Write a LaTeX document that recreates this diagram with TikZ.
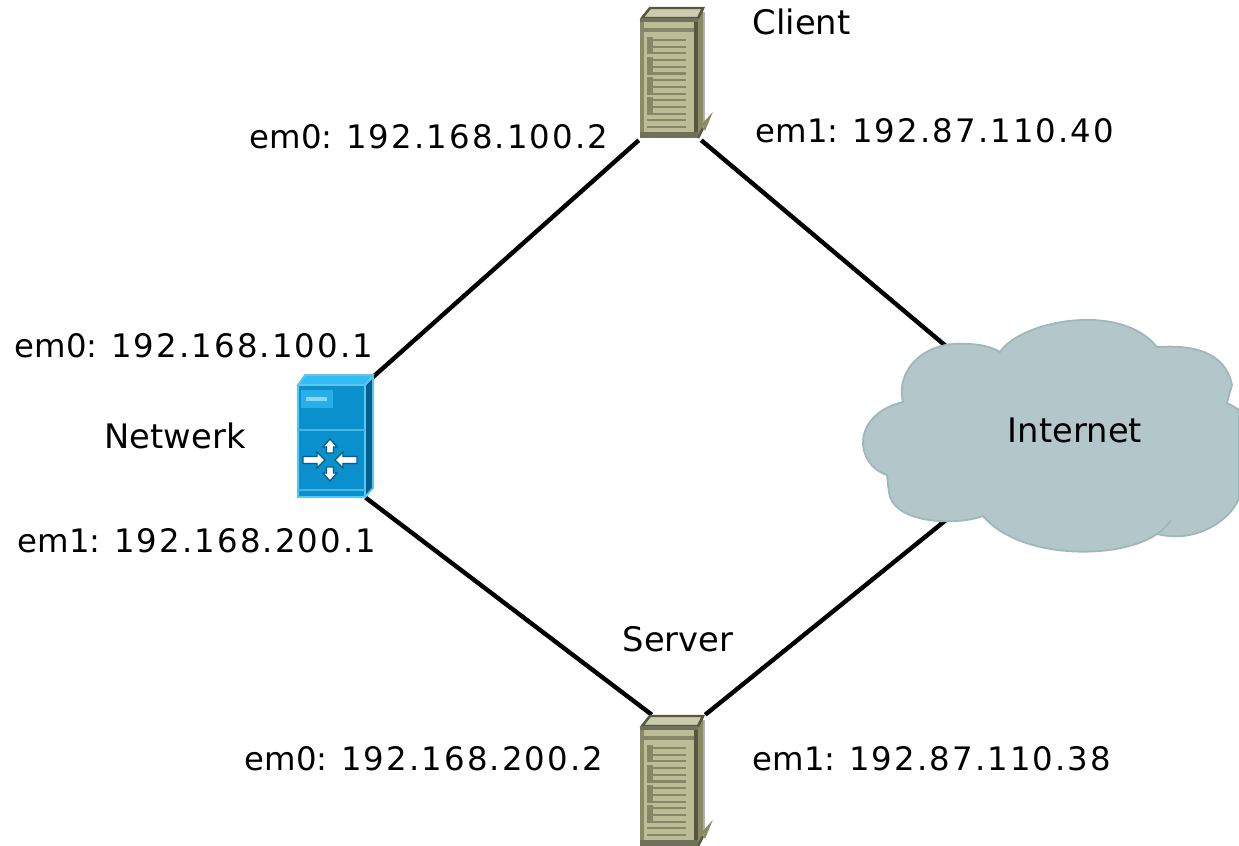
\documentclass[tikz,border=0pt]{standalone}
\usepackage{fontspec}
\setmainfont{DejaVu Sans}
\newfontfamily\ipfont[LetterSpace=6.5]{DejaVu Sans}
\definecolor{towerfront}{HTML}{BDBD95}
\definecolor{towertop}{HTML}{CBCBAE}
\definecolor{towerside}{HTML}{8B8B62}
\definecolor{towerdark}{HTML}{57573F}
\definecolor{towerslot}{HTML}{86866A}
\definecolor{boxfront}{HTML}{0A90CC}
\definecolor{boxtop}{HTML}{35BCF5}
\definecolor{boxside}{HTML}{005F8C}
\definecolor{boxedge}{HTML}{5CC6EE}
\definecolor{cloudfill}{HTML}{B3C6CA}
\definecolor{cloudedge}{HTML}{9DB7BB}
\tikzset{
    iplabel/.style={anchor=base west, inner sep=0pt, font=\fontsize{9.2}{11}\selectfont},
    namelabel/.style={anchor=base west, inner sep=0pt, font=\fontsize{9.6}{11}\selectfont},
    slot/.style={towerslot, line width=0.6pt},
    link/.style={black, line width=1.25pt},
    towerbox/.style={minimum width=0.64cm, minimum height=1.31cm, inner sep=0pt},
    switcharrow/.style={fill=white, draw=boxside, line width=0.35pt}
}
% tower drawn from its upper left corner
\newcommand{\towericon}[2]{
    \begin{scope}[shift={(#1,#2)}]
        \fill[gray!60] (63,4) rectangle (65,122);
        \fill[towerside] (58,10) -- (63,0) -- (63,120) -- (58,130) -- cycle;
        \draw[towerdark, line width=0.7pt] (58,10) -- (63,0) (58,130) -- (63,120);
        \filldraw[fill=towertop, draw=towerdark, line width=0.7pt] (2,10) -- (10,0) -- (63,0) -- (58,10) -- cycle;
        \fill[towerfront] (0,10) rectangle (58,130);
        \fill[towerside] (0,10) rectangle (4,130);
        \fill[towerdark] (54,10) rectangle (58,130);
        \fill[towerdark!85] (0,10) rectangle (58,14);
        \fill[towerslot] (0,20) rectangle (54,24);
        \fill[towerdark!85] (0,124) rectangle (58,130);
        \foreach \row in {0,...,13} {
            \draw[slot] (7,32+6.7*\row) -- (46,32+6.7*\row);
        }
        \foreach \row in {0,3,6,9} {
            \fill[towerslot] (7,29+6.7*\row) rectangle (13,45+6.7*\row);
        }
        \draw[towerside, line width=0.7pt] (60,120) -- (69,110) -- (64,122);
    \end{scope}
}
\begin{document}
\begin{tikzpicture}[x=0.01cm, y=-0.01cm]
    \useasboundingbox (0,0) rectangle (1239,846);

    \node[towerbox] (client) at (671.5,74) {};
    \node[towerbox] (server) at (672.5,781) {};
    \node[minimum width=0.74cm, minimum height=1.19cm, inner sep=0pt] (netwerk) at (335,437.5) {};
    \coordinate (cloudtop) at (947,347);
    \coordinate (cloudbot) at (946,520);

    \draw[link] (client.south west) -- (netwerk.north east);
    \draw[link] ([xshift=-0.03cm]client.south east) -- (cloudtop);
    \draw[link] ([xshift=-0.07cm]netwerk.south east) -- ([xshift=0.12cm]server.north west);
    \draw[link] (server.north east) -- (cloudbot);

    \towericon{640}{8}
    \towericon{640}{716}

    % switch
    \filldraw[fill=boxside, draw=boxedge, line width=0.5pt] (365,385) -- (373,377) -- (373,488) -- (365,497) -- cycle;
    \filldraw[fill=boxtop, draw=boxedge, line width=0.5pt] (298,385) -- (305,375) -- (373,375) -- (365,385) -- cycle;
    \filldraw[fill=boxfront, draw=boxedge, line width=0.7pt] (298,385) rectangle (365,497);
    \fill[boxtop!70!boxfront] (301,390) rectangle (333,408);
    \fill[boxedge!70!white] (306,397) rectangle (327,401);
    \draw[boxedge!70!boxfront, line width=0.8pt] (298,430) -- (365,430);
    \draw[boxedge!70!boxfront, line width=0.8pt] (298,490) -- (365,490);
    \foreach \dir in {1,-1} {
        \filldraw[switcharrow] (330-27*\dir,456.5) -- (330-13*\dir,456.5) -- (330-13*\dir,452) -- (330-5*\dir,460)
            -- (330-13*\dir,468) -- (330-13*\dir,463.5) -- (330-27*\dir,463.5) -- cycle;
        \filldraw[switcharrow] (326.5,460-7*\dir) -- (326.5,460-13*\dir) -- (323,460-13*\dir) -- (330,460-21*\dir)
            -- (337,460-13*\dir) -- (333.5,460-13*\dir) -- (333.5,460-7*\dir) -- cycle;
    }

    % cloud
    \filldraw[fill=cloudfill, draw=cloudedge, line width=0.5pt]
        (1000,352) .. controls (1020,321) and (1120,301) .. (1157,347)
        .. controls (1190,345) and (1225,350) .. (1232,385)
        .. controls (1230,392) and (1228,398) .. (1227,403)
        .. controls (1231,405) and (1235,407) .. (1239,410)
        -- (1239,497)
        .. controls (1235,515) and (1200,545) .. (1157,534)
        .. controls (1120,560) and (1020,560) .. (983,516)
        .. controls (960,525) and (900,525) .. (890,497)
        .. controls (888,490) and (888,482) .. (887,475)
        .. controls (855,465) and (850,415) .. (903,402)
        .. controls (895,370) and (925,340) .. (967,344)
        .. controls (980,344) and (992,347) .. (1000,352) -- cycle;
    \draw[cloudedge, line width=0.5pt] (1157,534) .. controls (1163,530) and (1168,525) .. (1171,520);
    \node[namelabel, anchor=center] (internet) at (1075,430) {Internet};

    \node[namelabel] (clientname) at (752,35) {Client};
    \node[iplabel] (clienta) at (249,149) {em0: {\ipfont 192.168.100.2}};
    \node[iplabel] (clientb) at (755,143) {em1: {\ipfont 192.87.110.40}};
    \node[iplabel] (netwerka) at (14,358) {em0: {\ipfont 192.168.100.1}};
    \node[namelabel] (netwerkname) at (104,449) {Netwerk};
    \node[iplabel] (netwerkb) at (17,553) {em1: {\ipfont 192.168.200.1}};
    \node[namelabel] (servername) at (622,652) {Server};
    \node[iplabel] (servera) at (244,770) {em0: {\ipfont 192.168.200.2}};
    \node[iplabel] (serverb) at (752,770) {em1: {\ipfont 192.87.110.38}};
\end{tikzpicture}
\end{document}
